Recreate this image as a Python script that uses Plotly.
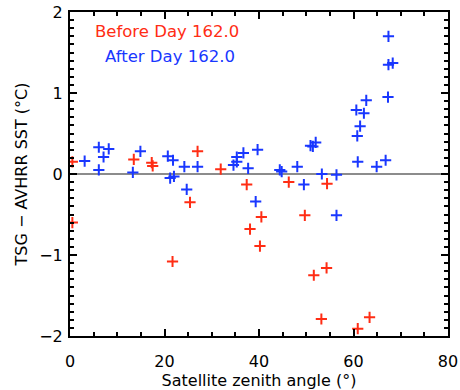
import plotly.graph_objects as go

# Before Day 162.0 (red)
before_x = [0.5, 0.5, 13.5, 17.3, 17.5, 21.7, 25.4, 27.0, 31.9, 37.4, 38.1, 40.5, 40.2,
            46.3, 49.7, 51.6, 53.2, 54.4, 54.3, 60.9, 63.4]
before_y = [0.15, -0.60, 0.18, 0.14, 0.10, -1.08, -0.35, 0.28, 0.06, -0.13, -0.68, -0.53, -0.89,
            -0.10, -0.51, -1.25, -1.79, -0.12, -1.16, -1.91, -1.77]

# After Day 162.0 (blue)
after_x = [3.1, 6.1, 6.1, 7.1, 8.2, 13.3, 14.9, 20.7, 21.8, 21.2, 22.0, 24.2, 24.7, 27.0,
           34.6, 35.3, 35.3, 36.7, 37.7, 39.7, 39.3, 44.4, 44.8, 48.1, 49.5, 50.9, 51.4, 52.0,
           53.3, 56.4, 56.4, 60.9, 60.8, 61.4, 60.6, 62.2, 62.7, 64.9, 66.8, 67.3, 67.4, 68.3, 67.4]
after_y = [0.16, 0.33, 0.05, 0.21, 0.31, 0.02, 0.28, 0.22, 0.17, -0.05, -0.03, 0.09, -0.19, 0.09,
           0.11, 0.15, 0.21, 0.26, 0.07, 0.30, -0.34, 0.05, 0.03, 0.09, -0.13, 0.35, 0.34, 0.39,
           0.00, -0.01, -0.51, 0.15, 0.47, 0.59, 0.79, 0.75, 0.91, 0.09, 0.17, 0.95, 1.35, 1.37, 1.70]

x_ticks = [0, 20, 40, 60, 80]
y_ticks = [-2, -1, 0, 1, 2]

RED = "rgb(255,45,20)"
BLUE = "rgb(25,55,255)"
FONT = "DejaVu Sans"

fig = go.Figure()
for xs, ys, col in [(before_x, before_y, RED), (after_x, after_y, BLUE)]:
    fig.add_trace(go.Scatter(
        x=xs, y=ys, mode="markers",
        marker=dict(symbol="cross-thin", size=8, line=dict(color=col, width=2)),
        showlegend=False,
    ))

fig.add_shape(type="line", xref="paper", x0=0, x1=1, yref="y", y0=0, y1=0,
              line=dict(color="rgb(140,140,140)", width=2), layer="below")

fig.add_annotation(text="Before Day 162.0", xref="paper", yref="paper", x=0.062, y=0.941,
                   xanchor="left", yanchor="middle", showarrow=False,
                   font=dict(family=FONT, size=16.5, color=RED))
fig.add_annotation(text="After Day 162.0", xref="paper", yref="paper", x=0.086, y=0.864,
                   xanchor="left", yanchor="middle", showarrow=False,
                   font=dict(family=FONT, size=16.5, color=BLUE))

axis_common = dict(
    showgrid=False, zeroline=False, showline=True, linecolor="black", linewidth=2,
    mirror="ticks", ticks="inside", ticklen=7, tickwidth=2, tickcolor="black",
    tickfont=dict(family=FONT, size=16, color="black"), automargin=False,
)
fig.update_xaxes(range=[0, 80], tickvals=x_ticks, ticktext=[str(v) for v in x_ticks],
                 minor=dict(dtick=5, ticks="inside", ticklen=4, tickwidth=2, tickcolor="black"),
                 title=dict(text="Satellite zenith angle (°)", font=dict(family=FONT, size=16), standoff=8),
                 ticklabelstandoff=10, **axis_common)
fig.update_yaxes(range=[-2, 2], tickvals=y_ticks, ticktext=["\u22122", "\u22121", "0", "1", "2"],
                 minor=dict(dtick=0.1, ticks="inside", ticklen=4, tickwidth=2, tickcolor="black"),
                 title=dict(text="TSG \u2212 AVHRR SST (°C)", font=dict(family=FONT, size=16), standoff=8),
                 ticklabelstandoff=2, **axis_common)

fig.update_layout(
    width=460, height=390,
    margin=dict(l=70, r=12, t=12, b=54),
    paper_bgcolor="white", plot_bgcolor="white",
    font=dict(family=FONT, size=16, color="black"),
)

fig.write_html("out.html")
